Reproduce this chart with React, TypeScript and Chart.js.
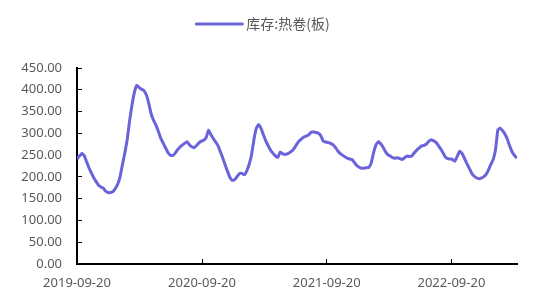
import React, { useEffect, useRef } from "react";
import { Chart, registerables } from "chart.js";

Chart.register(...registerables);

const seriesLabel = "库存:热卷(板)";
const startDate = "2019-09-20";
const stepDays = 7;
const inventory = [
  241, 248, 254, 249, 235, 221, 209, 198, 189, 181,
  177, 174, 167, 164, 164, 166, 173, 183, 200, 228,
  255, 286, 329, 365, 394, 410, 405, 401, 398, 388,
  369, 345, 330, 319, 305, 289, 278, 267, 256, 250,
  249, 254, 262, 268, 273, 277, 281, 274, 269, 267,
  272, 278, 282, 284, 290, 307, 297, 288, 280, 271,
  257, 243, 227, 212, 198, 192, 194, 201, 208, 208,
  205, 214, 229, 251, 286, 312, 320, 311, 296, 282,
  271, 261, 254, 248, 245, 257, 253, 252, 253, 256,
  260, 267, 276, 283, 288, 292, 294, 297, 303, 303,
  302, 300, 294, 282, 280, 279, 277, 274, 268, 260,
  254, 250, 246, 243, 241, 240, 233, 226, 222, 220,
  220, 221, 222, 231, 255, 273, 281, 276, 268, 258,
  251, 248, 244, 243, 244, 242, 240, 244, 248, 247,
  248, 255, 261, 266, 271, 272, 275, 281, 285, 283,
  280, 273, 265, 256, 246, 242, 241, 240, 236, 247,
  259, 254, 243, 231, 220, 209, 202, 198, 196, 197,
  200, 205, 215, 228, 239, 262, 308, 312, 306, 298,
  286, 270, 257, 249, 243,
];
const tickDays = [0, 366, 731, 1096];
const tickLabels = ["2019-09-20", "2020-09-20", "2021-09-20", "2022-09-20"];
const yMax = 450;
const yStep = 50;

const lineColor = "#6A63DA";
const textColor = "#595959";
const tickFont = { family: "'Noto Sans', sans-serif", size: 13 };

const legendPlugin = {
  id: "customLegend",
  afterDraw(chart: any) {
    const ctx = chart.ctx;
    ctx.save();
    ctx.font = "14px 'Noto Sans CJK SC', 'Noto Sans', sans-serif";
    const tw = ctx.measureText(seriesLabel).width;
    const lineW = 46;
    const gap = 4;
    const total = lineW + gap + tw;
    const cx = 263;
    const x0 = cx - total / 2;
    const y = 24;
    ctx.strokeStyle = lineColor;
    ctx.lineWidth = 3;
    ctx.lineCap = "round";
    ctx.beginPath();
    ctx.moveTo(x0, y);
    ctx.lineTo(x0 + lineW, y);
    ctx.stroke();
    ctx.fillStyle = textColor;
    ctx.textBaseline = "middle";
    ctx.textAlign = "left";
    ctx.fillText(seriesLabel, x0 + lineW + gap, y);
    ctx.restore();
  },
};

export default function App() {
  const ref = useRef<HTMLCanvasElement>(null);

  useEffect(() => {
    if (!ref.current) return;
    const points = inventory.map((v, i) => ({ x: i * stepDays, y: v }));
    const chart = new Chart(ref.current, {
      type: "line",
      data: {
        datasets: [
          {
            label: seriesLabel,
            data: points,
            borderColor: lineColor,
            backgroundColor: lineColor,
            borderWidth: 3,
            pointRadius: 0,
            tension: 0.1,
            fill: false,
          },
        ],
      },
      options: {
        responsive: false,
        animation: false,
        devicePixelRatio: 1,
        layout: { padding: { top: 68, right: 33, left: 0, bottom: 0 } },
        plugins: {
          legend: { display: false },
          tooltip: { enabled: false },
          title: { display: false },
        },
        scales: {
          x: {
            type: "linear",
            min: 0,
            max: (inventory.length - 1) * stepDays,
            afterBuildTicks: (scale: any) => {
              scale.ticks = tickDays.map((v) => ({ value: v }));
            },
            afterFit: (scale: any) => {
              scale.height = 44;
            },
            grid: {
              display: true,
              drawOnChartArea: false,
              drawTicks: true,
              tickLength: -5,
              color: "#000000",
              lineWidth: 1,
            },
            border: { display: true, color: "#000000", width: 2 },
            ticks: {
              autoSkip: false,
              maxRotation: 0,
              padding: 16,
              color: textColor,
              font: tickFont,
              callback: (_v: any, i: number) => tickLabels[i] ?? "",
            },
          },
          y: {
            min: 0,
            max: yMax,
            afterFit: (scale: any) => {
              scale.width = 77;
            },
            grid: {
              display: true,
              drawOnChartArea: false,
              drawTicks: true,
              tickLength: -5,
              color: "#000000",
              lineWidth: 1,
            },
            border: { display: true, color: "#000000", width: 2 },
            ticks: {
              stepSize: yStep,
              padding: 20,
              color: textColor,
              font: tickFont,
              callback: (v: any) => Number(v).toFixed(2),
            },
          },
        },
      },
      plugins: [legendPlugin],
    } as any);
    return () => chart.destroy();
  }, []);

  return (
    <div
      style={{
        position: "fixed",
        left: 0,
        top: 0,
        width: 550,
        height: 308,
        background: "#ffffff",
      }}
    >
      <canvas ref={ref} width={550} height={308} data-start={startDate} />
    </div>
  );
}
